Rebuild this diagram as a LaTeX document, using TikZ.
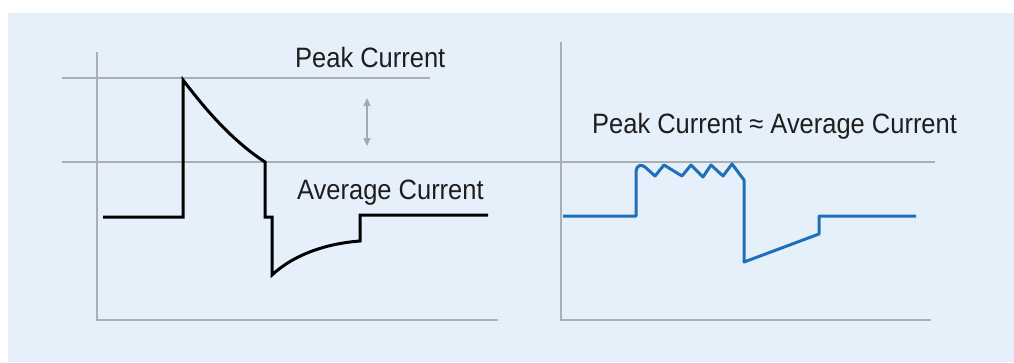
\documentclass[tikz,border=0pt]{standalone}
\usepackage{fontspec}
\setmainfont{Liberation Sans}[FakeStretch=0.91]
\usetikzlibrary{arrows.meta}
\definecolor{bgblue}{RGB}{230,240,250}
\definecolor{gridgray}{RGB}{170,175,180}
\definecolor{arrowgray}{RGB}{165,170,176}
\definecolor{waveblue}{RGB}{30,112,184}
\definecolor{textgray}{RGB}{30,30,30}
\begin{document}
\begin{tikzpicture}[x=1pt,y=-1pt,>=Stealth,
  grid/.style={gridgray,line width=2pt},
  wave/.style={line width=3pt,line join=miter},
  lbl/.style={anchor=base west,inner sep=0pt,text=textgray,font=\fontsize{28}{32}\selectfont}]
  \useasboundingbox (0,0) rectangle (1014,362);
  \fill[white] (0,0) rectangle (1014,362);
  \fill[bgblue] (8,13) rectangle (1014,362);

  % axes and reference levels
  \draw[grid] (97,52) -- (97,320) -- (498,320);
  \draw[grid] (561,42) -- (561,320) -- (931,320);
  \draw[grid] (62,78) -- (430,78);
  \draw[grid] (62,162) -- (935,162);

  % labels
  \node[lbl] (peak) at (295,67) {Peak Current};
  \node[lbl] (avg) at (297,199) {Average Current};
  \node[lbl] (both) at (592,133) {Peak Current ≈ Average Current};

  \coordinate (dtop) at (367,98);
  \coordinate (dbot) at (367,146);
  \draw[arrowgray,line width=1.6pt,{Triangle[length=8pt,width=7pt]}-{Triangle[length=8pt,width=7pt]}] (dtop) -- (dbot);

  % pulsed current
  \draw[wave,black] (103,217) -- (183,217) -- (183,80)
    .. controls (200,102) and (228,138) .. (265,162)
    -- (265,217) -- (272,217) -- (272,275)
    .. controls (290,258) and (320,244) .. (360,241)
    -- (360,215) -- (488,215);

  % smoothed current
  \draw[wave,waveblue,line join=round] (563,216) -- (636,216) -- (636,171)
    .. controls (637,165) and (641,164) .. (645,167)
    -- (655,176) -- (664,165) -- (682,176) -- (691,165) -- (703,177)
    -- (711,165) -- (723,176) -- (732,164) -- (744,180)
    -- (744,262) -- (819,234) -- (819,216) -- (916,216);
\end{tikzpicture}
\end{document}
